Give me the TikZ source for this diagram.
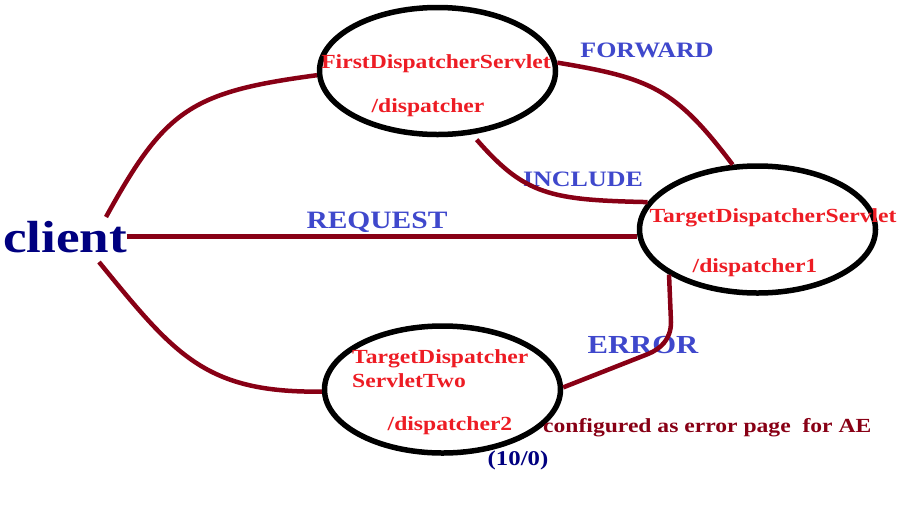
\documentclass[tikz,border=0pt]{standalone}
\usepackage{fontspec}
\setmainfont{Liberation Serif}[FakeStretch=1.18]
\usetikzlibrary{shapes.geometric}
\usepackage{xcolor}
\definecolor{wine}{HTML}{880015}
\definecolor{servred}{HTML}{ED1C24}
\definecolor{verbblue}{HTML}{3F48CC}
\definecolor{navy}{HTML}{000080}
\tikzset{
  servlet/.style={draw=black,line width=5.5pt,ellipse,minimum width=236pt,minimum height=127pt,inner sep=0pt},
  page/.style={text=servred,font=\fontsize{20}{24}\selectfont\bfseries,inner sep=0pt},
  verb/.style={text=verbblue,inner sep=0pt,anchor=base},
  link/.style={draw=wine,line width=4.5pt}
}

\begin{document}
\begin{tikzpicture}[x=1pt,y=-1pt]
    \useasboundingbox (0,0) rectangle (905,515);
    % servlets
    \node[servlet] (first) at (437.5,71) {};
    \node[servlet] (target) at (757.5,229.5) {};
    \node[servlet] (two) at (442.5,389.5) {};
    \node[page,anchor=base] (firstname) at (436,68) {FirstDispatcherServlet};
    \node[page,anchor=base] (firstpath) at (428,112) {/dispatcher};
    \node[page,anchor=base] (targetname) at (773,222) {TargetDispatcherServlet};
    \node[page,anchor=base] (targetpath) at (755,272) {/dispatcher1};
    \node[page,anchor=base west] (twoname) at (352,363) {TargetDispatcher};
    \node[page,anchor=base west] (twoname2) at (352,387) {ServletTwo};
    \node[page,anchor=base] (twopath) at (450,430) {/dispatcher2};
    \node[text=wine,font=\fontsize{20}{24}\selectfont\bfseries,anchor=base west,inner sep=0pt] (note) at (543,432) {configured as error page\ \ for AE};
    \node[text=navy,font=\fontsize{21}{25}\selectfont\bfseries,anchor=base,inner sep=0pt] (divzero) at (518,465) {(10/0)};
    \node[text=navy,font=\fontsize{45}{54}\selectfont\bfseries,anchor=base west,inner sep=0pt] (client) at (3,252) {client};
    % verbs
    \node[verb,font=\fontsize{25}{30}\selectfont\bfseries] (request) at (377,228) {REQUEST};
    \node[verb,font=\fontsize{22}{26}\selectfont\bfseries] (forward) at (647,57) {FORWARD};
    \node[verb,font=\fontsize{22}{26}\selectfont\bfseries] (include) at (583,186) {INCLUDE};
    \node[verb,font=\fontsize{26}{31}\selectfont\bfseries] (error) at (643,353) {ERROR};
    % links
    \coordinate (clientup) at (106,217);
    \coordinate (clientdown) at (99,262);
    \draw[link] (clientup) .. controls (165,110) and (190,92) .. (first.182);
    \draw[link] (client.east) -- (client.east -| target.west);
    \draw[link] (clientdown) .. controls (175,355) and (205,393) .. (two.181);
    \draw[link] (first.4) .. controls (650,78) and (675,88) .. (target.111);
    \draw[link] ([yshift=-6pt]first.-58) .. controls (525,195) and (550,200) .. (target.166);
    \draw[link] (target.207) -- (671,322) .. controls (671,340) and (660,349) .. (648,354) -- (two.1);
\end{tikzpicture}
\end{document}
